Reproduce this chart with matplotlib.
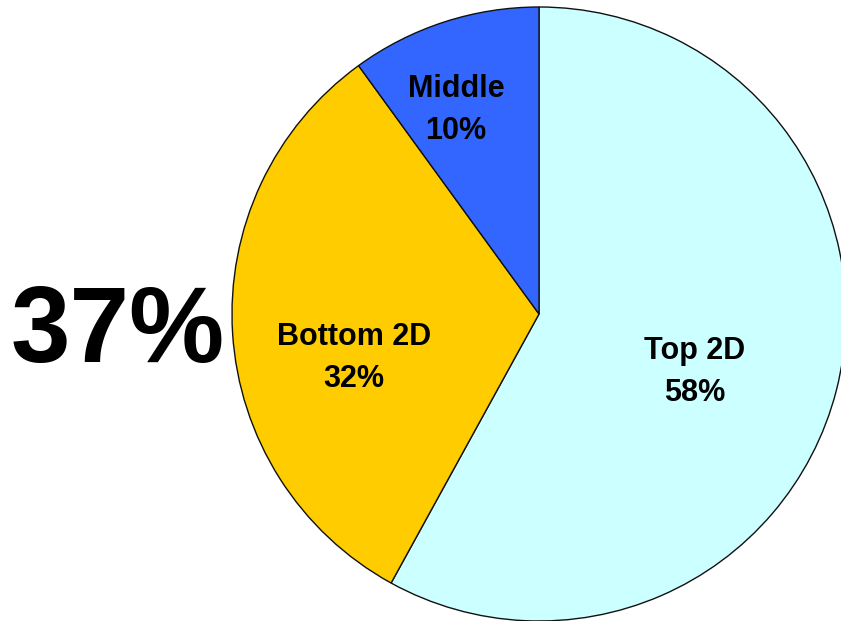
import matplotlib
matplotlib.use('Agg')
import matplotlib.pyplot as plt

# slice data, drawn clockwise from 12 o'clock
names = ['Top 2D', 'Bottom 2D', 'Middle']
shares = [58, 32, 10]
colours = ['#CCFFFF', '#FFCC00', '#3366FF']
headline = '37%'

# label anchor points (figure pixels, origin bottom-left)
label_xy = [(695, 249), (354, 263), (456, 511)]

plt.rcParams['font.family'] = ['Liberation Sans', 'DejaVu Sans']

fig = plt.figure(figsize=(8.41, 6.21), dpi=100)
ax = fig.add_axes([0, 0, 1, 1])

ax.pie(shares, colors=colours, startangle=90, counterclock=False,
       center=(539, 307), radius=307, frame=True,
       wedgeprops=dict(edgecolor='#111111', linewidth=1.0))
ax.set_xlim(0, 841)
ax.set_ylim(0, 621)
ax.set_aspect('equal')
ax.axis('off')

for name, v, (x, y) in zip(names, shares, label_xy):
    ax.text(x, y, f'{name}\n{v}%', ha='center', va='center',
            fontsize=22, fontweight='bold', linespacing=1.5)

# big figure on the left, placed by its baseline
ax.text(118, 259, headline, ha='center', va='baseline',
        fontsize=77, fontweight='bold')

fig.savefig('out.png', dpi=100)
